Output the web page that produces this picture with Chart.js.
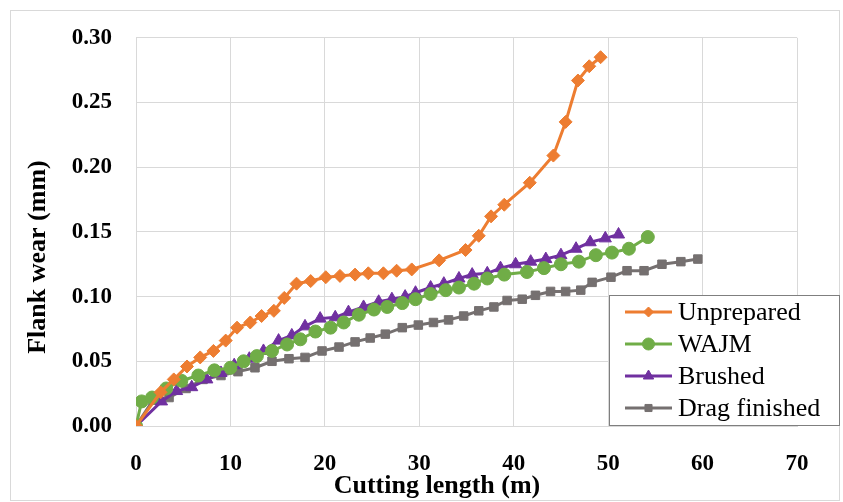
<!DOCTYPE html>
<html>
<head>
<meta charset="utf-8">
<script src="https://cdn.jsdelivr.net/npm/chart.js@4"></script>
<style>
  html, body { margin: 0; padding: 0; background: #fff; }
  canvas { display: block; }
</style>
</head>
<body>
<canvas id="wearChart" width="843" height="502"></canvas>
<script>
// === Datos ===
const unpreparedX = [0, 2.6, 4.0, 5.4, 6.8, 8.2, 9.5, 10.7, 12.1, 13.3, 14.6, 15.7, 17.0, 18.5, 20.1, 21.6, 23.2, 24.6, 26.2, 27.6, 29.2, 32.1, 34.9, 36.3, 37.6, 39.0, 41.7, 44.2, 45.5, 46.8, 48.0, 49.2];
const unpreparedY = [0, 0.026, 0.036, 0.046, 0.053, 0.058, 0.066, 0.076, 0.080, 0.085, 0.089, 0.099, 0.110, 0.112, 0.115, 0.116, 0.117, 0.118, 0.118, 0.120, 0.121, 0.128, 0.136, 0.147, 0.162, 0.171, 0.188, 0.209, 0.235, 0.267, 0.278, 0.285];

const wajmX = [0, 0.6, 1.7, 3.2, 4.8, 6.6, 8.3, 10.0, 11.4, 12.8, 14.4, 16.0, 17.4, 19.0, 20.6, 22.0, 23.6, 25.2, 26.6, 28.2, 29.6, 31.2, 32.8, 34.2, 35.8, 37.2, 39.0, 41.4, 43.2, 45.0, 46.9, 48.7, 50.4, 52.2, 54.2];
const wajmY = [0, 0.019, 0.022, 0.029, 0.035, 0.039, 0.043, 0.045, 0.050, 0.054, 0.058, 0.063, 0.067, 0.073, 0.076, 0.080, 0.086, 0.090, 0.092, 0.095, 0.098, 0.102, 0.105, 0.107, 0.110, 0.114, 0.117, 0.119, 0.122, 0.125, 0.127, 0.132, 0.134, 0.137, 0.146];

const brushedX = [0, 2.7, 4.3, 5.9, 7.5, 9.0, 10.4, 12.0, 13.5, 15.1, 16.5, 17.9, 19.5, 21.1, 22.5, 24.1, 25.7, 27.1, 28.5, 29.6, 31.2, 32.6, 34.2, 35.6, 37.2, 38.6, 40.2, 41.8, 43.4, 45.0, 46.6, 48.1, 49.7, 51.1];
const brushedY = [0, 0.019, 0.027, 0.030, 0.036, 0.041, 0.047, 0.052, 0.058, 0.066, 0.070, 0.077, 0.083, 0.084, 0.088, 0.092, 0.096, 0.098, 0.100, 0.103, 0.107, 0.110, 0.114, 0.117, 0.118, 0.122, 0.125, 0.127, 0.129, 0.132, 0.137, 0.142, 0.145, 0.148];

const dragX = [0, 1.8, 3.5, 5.3, 7.1, 9.0, 10.8, 12.6, 14.4, 16.2, 17.9, 19.7, 21.5, 23.2, 24.8, 26.4, 28.2, 29.9, 31.5, 33.1, 34.7, 36.3, 37.9, 39.3, 40.9, 42.3, 43.9, 45.5, 47.1, 48.3, 50.3, 52.0, 53.8, 55.7, 57.7, 59.5];
const dragY = [0, 0.020, 0.022, 0.029, 0.036, 0.039, 0.042, 0.045, 0.050, 0.052, 0.053, 0.058, 0.061, 0.065, 0.068, 0.071, 0.076, 0.078, 0.080, 0.082, 0.085, 0.089, 0.092, 0.097, 0.098, 0.101, 0.104, 0.104, 0.105, 0.111, 0.115, 0.120, 0.120, 0.125, 0.127, 0.129];

const seriesNames = ["Unprepared", "WAJM", "Brushed", "Drag finished"];
const xTitle = "Cutting length (m)";
const yTitle = "Flank wear (mm)";

const toPoints = (xs, ys) => xs.map((x, i) => ({ x, y: ys[i] }));

// === Estilos ===
const colors = ["#ED7D31", "#70AD47", "#7030A0", "#757070"];
const styles = ["rectRot", "circle", "triangle", "rect"];
const radii = [6.5, 6.5, 7, 6];
const legendRadii = [5, 6, 6, 5];
const serif = "'Liberation Serif', 'Times New Roman', serif";

// === Leyenda + títulos + borde ===
const extras = {
    id: "extras",
    afterDraw(chart) {
        const ctx = chart.ctx;
        ctx.save();
        // borde exterior
        ctx.strokeStyle = "#d9d9d9";
        ctx.lineWidth = 1;
        ctx.strokeRect(10.5, 10.5, 829, 490);

        // títulos de ejes
        ctx.fillStyle = "#000";
        ctx.font = "bold 26px " + serif;
        ctx.textAlign = "center";
        ctx.textBaseline = "middle";
        ctx.fillText(xTitle, 437, 486);
        ctx.save();
        ctx.translate(38, 257);
        ctx.rotate(-Math.PI / 2);
        ctx.fillText(yTitle, 0, 0);
        ctx.restore();

        // leyenda
        const bx = 609, by = 295, bw = 230, bh = 130;
        ctx.fillStyle = "#fff";
        ctx.fillRect(bx, by, bw, bh);
        ctx.strokeStyle = "#7f7f7f";
        ctx.strokeRect(bx + 0.5, by + 0.5, bw, bh);
        ctx.font = "26px " + serif;
        ctx.textAlign = "left";
        chart.data.datasets.forEach((ds, i) => {
            const cy = 312 + i * 32;
            ctx.strokeStyle = ds.borderColor;
            ctx.lineWidth = 3;
            ctx.beginPath();
            ctx.moveTo(625, cy);
            ctx.lineTo(672, cy);
            ctx.stroke();
            ctx.fillStyle = ds.borderColor;
            ctx.lineWidth = 1;
            Chart.helpers.drawPoint(ctx, {
                pointStyle: ds.pointStyle, radius: legendRadii[i], borderWidth: 1
            }, 648.5, cy);
            ctx.fillStyle = "#000";
            ctx.fillText(ds.label, 678, cy + 1);
        });
        ctx.restore();
    }
};

const allX = [unpreparedX, wajmX, brushedX, dragX];
const allY = [unpreparedY, wajmY, brushedY, dragY];

new Chart(document.getElementById("wearChart"), {
    type: "scatter",
    data: {
        datasets: seriesNames.map((name, i) => ({
            label: name,
            data: toPoints(allX[i], allY[i]),
            showLine: true,
            borderColor: colors[i],
            backgroundColor: colors[i],
            borderWidth: 3,
            pointStyle: styles[i],
            pointRadius: radii[i],
            pointHoverRadius: radii[i],
            pointBorderWidth: 1,
            tension: 0,
        })),
    },
    options: {
        responsive: false,
        animation: false,
        layout: { padding: { left: 10, right: 46, top: 33, bottom: 0 } },
        plugins: {
            legend: { display: false },
            tooltip: { enabled: false },
        },
        scales: {
            x: {
                type: "linear",
                min: 0, max: 70,
                afterFit: (s) => { s.height = 76; },
                ticks: {
                    stepSize: 10,
                    padding: 24,
                    color: "#000",
                    font: { family: serif, size: 23, weight: "bold" },
                },
                grid: { color: "#d9d9d9", drawTicks: false },
                border: { color: "#d9d9d9" },
            },
            y: {
                min: 0, max: 0.3,
                afterFit: (s) => { s.width = 126; },
                ticks: {
                    stepSize: 0.05,
                    padding: 24,
                    color: "#000",
                    font: { family: serif, size: 23, weight: "bold" },
                    callback: (v) => v.toFixed(2),
                },
                grid: { color: "#d9d9d9", drawTicks: false },
                border: { color: "#d9d9d9" },
            },
        },
    },
    plugins: [extras],
});
</script>
</body>
</html>
